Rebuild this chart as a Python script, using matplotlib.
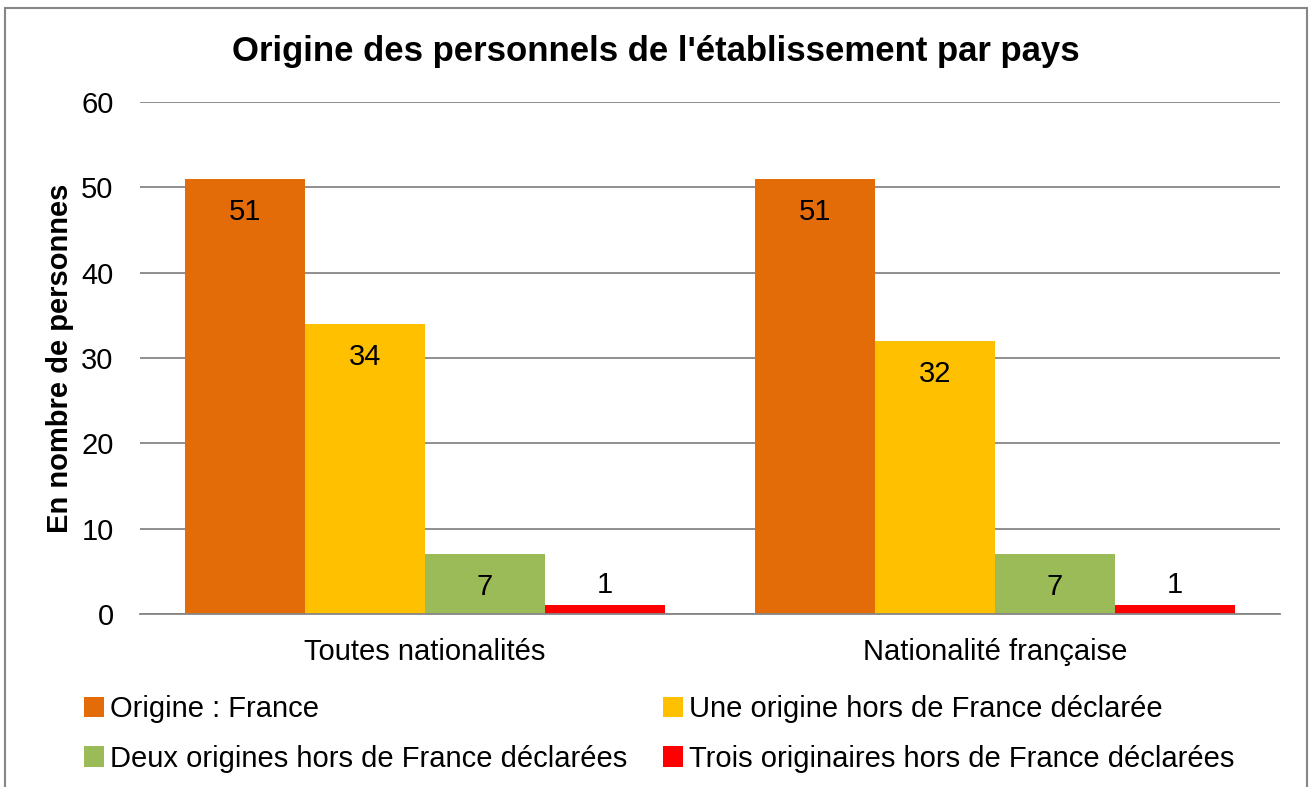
import matplotlib
matplotlib.use("Agg")
import matplotlib.pyplot as plt
from matplotlib.patches import Rectangle
import numpy as np

plt.rcParams['font.family'] = ['Liberation Sans', 'DejaVu Sans']

categories = ["Toutes nationalités", "Nationalité française"]
series_names = ["Origine : France",
                "Une origine hors de France déclarée",
                "Deux origines hors de France déclarées",
                "Trois originaires hors de France déclarées"]
values = [
    [51, 51],
    [34, 32],
    [7, 7],
    [1, 1],
]
colors = ["#E36C09", "#FFC000", "#9BBB59", "#FF0000"]
yticks = [0, 10, 20, 30, 40, 50, 60]

FS = 21
W, H = 1311, 787
fig = plt.figure(figsize=(W / 100, H / 100), dpi=100)
ax = fig.add_axes([140 / W, 1 - 614 / H, (1280 - 140) / W, (614 - 102) / H])

x = np.arange(len(categories))
bw = 120 / 570
n = len(series_names)
handles = []
for i, (name, vals, c) in enumerate(zip(series_names, values, colors)):
    pos = x + (i - (n - 1) / 2) * bw
    bars = ax.bar(pos, vals, width=bw, color=c, label=name, zorder=3)
    handles.append(bars)
    for b, v in zip(bars, vals):
        off = -33 if v >= 5 else 20
        ax.annotate(str(v), xy=(b.get_x() + b.get_width() / 2, v),
                    xytext=(0, off * 0.72), textcoords="offset points",
                    ha="center", va="center", fontsize=FS, color="black", zorder=4)

ax.set_xlim(-0.5, len(categories) - 0.5)
ax.set_ylim(0, 60)
ax.set_yticks(yticks)
ax.set_yticklabels([str(t) for t in yticks], fontsize=FS)
ax.set_xticks(x)
ax.set_xticklabels(categories, fontsize=FS)
ax.tick_params(axis='y', length=0, pad=19)
ax.tick_params(axis='x', length=0, pad=17)
ax.yaxis.grid(True, color="#868686", linewidth=1.3, zorder=0)
for s in ["top", "right", "left"]:
    ax.spines[s].set_visible(False)
ax.spines["bottom"].set_color("#868686")
ax.spines["bottom"].set_linewidth(1.3)
ax.spines["bottom"].set_zorder(5)

ax.set_ylabel("En nombre de personnes", fontsize=FS, fontweight="bold", labelpad=5)

fig.text(0.5, 1 - 51 / H,
         "Origine des personnels de l'établissement par pays",
         ha="center", va="center", fontsize=25, fontweight="bold")

order = [0, 2, 1, 3]
leg = fig.legend([handles[k] for k in order], [series_names[k] for k in order],
                 loc="upper left", bbox_to_anchor=(84 / W, 1 - 695 / H), ncol=2,
                 frameon=False, fontsize=FS, handlelength=0.7, handleheight=0.7,
                 handletextpad=0.2, columnspacing=1.2, labelspacing=0.75,
                 borderaxespad=0, borderpad=0)

fig.patches.append(Rectangle((5 / W, -0.02), (1307 - 5) / W, 1 - 8 / H + 0.02,
                             transform=fig.transFigure, fill=False,
                             edgecolor="#868686", linewidth=1.5))

fig.savefig("out.png", dpi=100)
